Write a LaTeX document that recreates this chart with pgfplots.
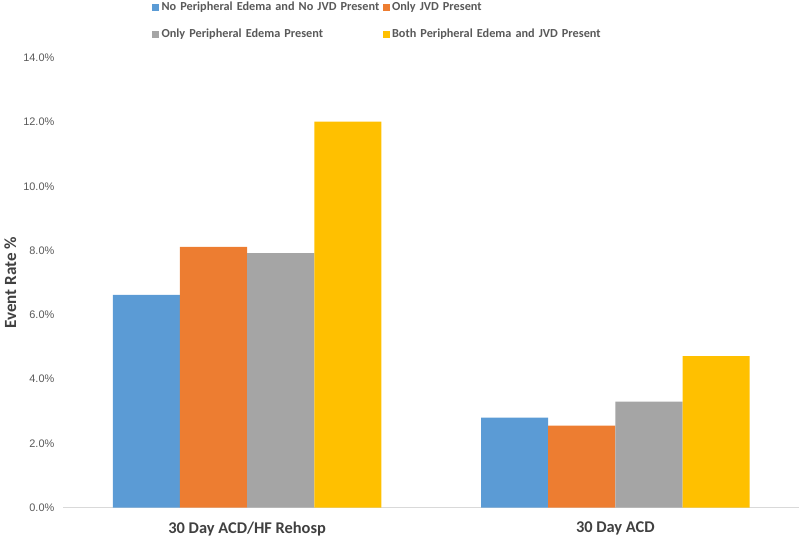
\documentclass[border=0pt]{standalone}
\usepackage{fontspec}
\setmainfont{Carlito}
\newfontfamily\tickfont{Liberation Sans}
\usepackage{pgfplots}
\pgfplotsset{compat=1.18}
\definecolor{cblue}{HTML}{5B9BD5}
\definecolor{corange}{HTML}{ED7D31}
\definecolor{cgray}{HTML}{A5A5A5}
\definecolor{cgold}{HTML}{FFC000}
\definecolor{txt}{HTML}{595959}
\definecolor{dtxt}{HTML}{404040}
\definecolor{axl}{HTML}{D9D9D9}
\begin{document}
\begin{tikzpicture}
\begin{axis}[
  scale only axis,
  width=552.75pt, height=337.5pt,
  ybar=0pt, bar width=50.4pt,
  xmin=-0.5, xmax=1.5, ymin=0, ymax=14,
  xtick={0,1}, xticklabels={30 Day ACD/HF Rehosp, 30 Day ACD},
  ytick={0,2,...,14},
  yticklabel={\pgfmathprintnumber[fixed,fixed zerofill,precision=1]{\tick}\%},
  /pgf/number format/assume math mode=true,
  separate axis lines,
  axis x line*=bottom, axis y line*=left,
  x axis line style={draw=axl, line width=0.8pt},
  y axis line style={draw=none},
  tick style={draw=none},
  y tick label style={font=\tickfont\fontsize{8.2}{10}\selectfont, text=txt, xshift=-3pt},
  x tick label style={font=\bfseries\fontsize{12.3}{14}\selectfont, text=dtxt, yshift=-3pt},
  ylabel={Event Rate \%},
  every axis y label/.style={at={(rel axis cs:0,0.5)}, rotate=90, anchor=center,
    yshift=39.5pt, font=\bfseries\fontsize{12.8}{15}\selectfont, text=dtxt},
  legend columns=2,
  legend style={at={(rel axis cs:0.1208,1.125)}, anchor=north west, draw=none,
    inner sep=0pt, row sep=12.5pt, column sep=0pt,
    font=\bfseries\fontsize{9.2}{11}\selectfont, text=txt,
    nodes={inner sep=0pt, anchor=west, text width=166pt, align=left}},
  legend image code/.code={\fill[#1] (0pt,-2.7pt) rectangle (5.4pt,2.7pt); \path (7pt,0pt);},
  legend cell align=left,
]
\addplot[fill=cblue, draw=none] coordinates {(0,6.62) (1,2.80)};
\addlegendentry{No Peripheral Edema and No JVD Present}
\addplot[fill=corange, draw=none] coordinates {(0,8.12) (1,2.55)};
\addlegendentry{Only JVD Present}
\addplot[fill=cgray, draw=none] coordinates {(0,7.92) (1,3.30)};
\addlegendentry{Only Peripheral Edema Present}
\addplot[fill=cgold, draw=none] coordinates {(0,12.02) (1,4.72)};
\addlegendentry{Both Peripheral Edema and JVD Present}
\coordinate (bl) at (rel axis cs:0,0);
\coordinate (tr) at (rel axis cs:1,1);
\end{axis}
\path[use as bounding box] ([xshift=-47.25pt,yshift=-21.75pt]bl) rectangle ([yshift=43.5pt]tr);
\end{tikzpicture}
\end{document}
